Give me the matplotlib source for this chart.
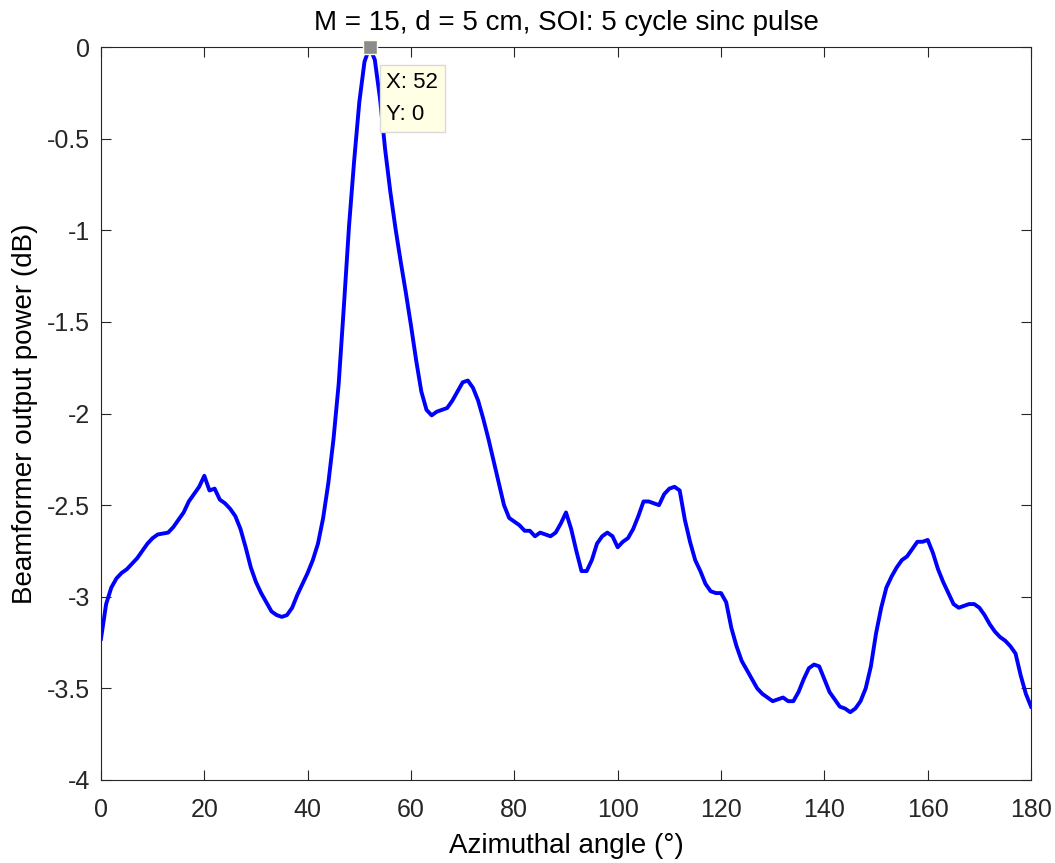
#!/usr/bin/env python
"""Beamformer output power versus azimuthal angle, with a data tip on the peak."""
import matplotlib
matplotlib.use("Agg")
import matplotlib.pyplot as plt  # noqa: E402
import numpy as np  # noqa: E402

plt.rcParams["font.family"] = ["Liberation Sans", "DejaVu Sans"]

# azimuth (deg) and output power (dB)
angle_deg = np.arange(0, 181)
power_db = [
    -3.23, -3.04, -2.95, -2.90, -2.87, -2.85, -2.82, -2.79, -2.75, -2.71,
    -2.68, -2.66, -2.655, -2.65, -2.62, -2.58, -2.54, -2.48, -2.44, -2.40,
    -2.34, -2.42, -2.41, -2.47, -2.49, -2.52, -2.56, -2.63, -2.73, -2.84,
    -2.92, -2.98, -3.03, -3.08, -3.10, -3.11, -3.10, -3.06, -2.99, -2.93,
    -2.87, -2.80, -2.71, -2.57, -2.38, -2.14, -1.84, -1.42, -0.98, -0.62,
    -0.30, -0.08, 0.00, -0.07, -0.28, -0.56, -0.79, -0.99, -1.17, -1.34,
    -1.52, -1.71, -1.88, -1.98, -2.01, -1.99, -1.98, -1.97, -1.93, -1.88,
    -1.83, -1.82, -1.86, -1.93, -2.03, -2.14, -2.26, -2.38, -2.50, -2.57,
    -2.59, -2.61, -2.64, -2.64, -2.67, -2.65, -2.66, -2.67, -2.65, -2.60,
    -2.54, -2.63, -2.75, -2.86, -2.86, -2.80, -2.71, -2.67, -2.65, -2.67,
    -2.73, -2.70, -2.68, -2.63, -2.56, -2.48, -2.48, -2.49, -2.50, -2.44,
    -2.41, -2.40, -2.42, -2.58, -2.70, -2.80, -2.86, -2.93, -2.97, -2.98,
    -2.98, -3.03, -3.17, -3.27, -3.35, -3.40, -3.45, -3.50, -3.53, -3.55,
    -3.57, -3.56, -3.55, -3.57, -3.57, -3.52, -3.45, -3.39, -3.37, -3.38,
    -3.45, -3.52, -3.56, -3.60, -3.61, -3.63, -3.61, -3.57, -3.50, -3.38,
    -3.20, -3.06, -2.95, -2.89, -2.84, -2.80, -2.78, -2.74, -2.70, -2.70,
    -2.69, -2.76, -2.85, -2.92, -2.98, -3.04, -3.06, -3.05, -3.04, -3.04,
    -3.06, -3.10, -3.15, -3.19, -3.22, -3.24, -3.27, -3.31, -3.43, -3.53,
    -3.60,
]

tip_x = 52
tip_y = 0

x_ticks = np.arange(0, 181, 20)
y_ticks = [-4, -3.5, -3, -2.5, -2, -1.5, -1, -0.5, 0]
y_tick_labels = ["-4", "-3.5", "-3", "-2.5", "-2", "-1.5", "-1", "-0.5", "0"]

fig = plt.figure(figsize=(10.55, 8.63), dpi=100)
ax = fig.add_axes([0.0957, 0.0962, 0.8816, 0.8493])

ax.plot(angle_deg, power_db, color=(0, 0, 1), lw=2.8)

# data tip on the main lobe
ax.plot([tip_x], [tip_y], marker="s", ms=10, color="#8c8c8c",
        mec="#fffff0", mew=1.0, clip_on=False, zorder=5)
ax.annotate(f"X: {tip_x}\nY: {tip_y}", xy=(tip_x, tip_y),
            xytext=(12, -18), textcoords="offset points",
            ha="left", va="top", fontsize=16, linespacing=1.7,
            bbox=dict(boxstyle="square,pad=0.3", fc="#ffffe6",
                      ec="#d9d9d9", lw=1.0),
            zorder=6)

ax.set_xlim(0, 180)
ax.set_ylim(-4, 0)
ax.set_xticks(x_ticks)
ax.set_yticks(y_ticks)
ax.set_yticklabels(y_tick_labels)
ax.tick_params(direction="in", length=7, width=0.8, top=True, right=True,
               labelsize=18, colors="#262626")
ax.tick_params(axis="x", pad=13)
ax.tick_params(axis="y", pad=8)
for s in ax.spines.values():
    s.set_color("#262626")
    s.set_linewidth(0.8)

ax.set_xlabel("Azimuthal angle (°)", fontsize=20, labelpad=8)
ax.set_ylabel("Beamformer output power (dB)", fontsize=20, labelpad=6)
ax.set_title("M = 15, d = 5 cm, SOI: 5 cycle sinc pulse", fontsize=20, pad=12)

fig.savefig("out.png", dpi=100)
